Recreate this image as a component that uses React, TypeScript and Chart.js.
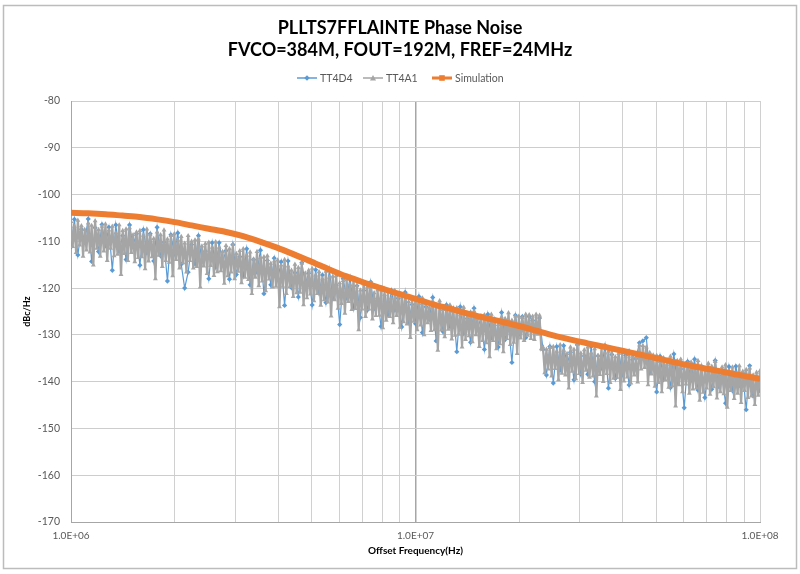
import React, { useEffect, useRef } from "react";
import { Chart, registerables } from "chart.js";

Chart.register(...registerables);

const titleLines = ["PLLTS7FFLAINTE Phase Noise", "FVCO=384M, FOUT=192M, FREF=24MHz"];
const xTitle = "Offset Frequency(Hz)";
const yTitle = "dBc/Hz";
const seriesNames = ["TT4D4", "TT4A1", "Simulation"];

// measurement offset frequencies (MHz)
const freqMHz = [
  1.000, 1.023, 1.047, 1.072, 1.096, 1.122, 1.148, 1.175, 1.202, 1.230,
  1.259, 1.288, 1.318, 1.349, 1.380, 1.413, 1.445, 1.479, 1.514, 1.549,
  1.585, 1.622, 1.660, 1.698, 1.738, 1.778, 1.820, 1.862, 1.905, 1.950,
  1.995, 2.042, 2.089, 2.138, 2.188, 2.239, 2.291, 2.344, 2.399, 2.455,
  2.512, 2.570, 2.630, 2.692, 2.754, 2.818, 2.884, 2.951, 3.020, 3.090,
  3.162, 3.236, 3.311, 3.388, 3.467, 3.548, 3.631, 3.715, 3.802, 3.890,
  3.981, 4.074, 4.169, 4.266, 4.365, 4.467, 4.571, 4.677, 4.786, 4.898,
  5.012, 5.129, 5.248, 5.370, 5.495, 5.623, 5.754, 5.888, 6.026, 6.166,
  6.310, 6.457, 6.607, 6.761, 6.918, 7.079, 7.244, 7.413, 7.586, 7.762,
  7.943, 8.128, 8.318, 8.511, 8.710, 8.913, 9.120, 9.333, 9.550, 9.772,
  10.00, 10.23, 10.47, 10.72, 10.96, 11.22, 11.48, 11.75, 12.02, 12.30,
  12.59, 12.88, 13.18, 13.49, 13.80, 14.13, 14.45, 14.79, 15.14, 15.49,
  15.85, 16.22, 16.60, 16.98, 17.38, 17.78, 18.20, 18.62, 19.05, 19.50,
  19.95, 20.42, 20.89, 21.38, 21.88, 22.39, 22.91, 23.44, 23.99, 24.55,
  25.12, 25.70, 26.30, 26.92, 27.54, 28.18, 28.84, 29.51, 30.20, 30.90,
  31.62, 32.36, 33.11, 33.88, 34.67, 35.48, 36.31, 37.15, 38.02, 38.90,
  39.81, 40.74, 41.69, 42.66, 43.65, 44.67, 45.71, 46.77, 47.86, 48.98,
  50.12, 51.29, 52.48, 53.70, 54.95, 56.23, 57.54, 58.88, 60.26, 61.66,
  63.10, 64.57, 66.07, 67.61, 69.18, 70.79, 72.44, 74.13, 75.86, 77.62,
  79.43, 81.28, 83.18, 85.11, 87.10, 89.13, 91.20, 93.33, 95.50, 97.72,
  100.0,
];

// extra TT4A1 sample frequencies lying between the ones above (MHz)
const freqMidMHz = [
  1.011, 1.035, 1.059, 1.084, 1.109, 1.135, 1.161, 1.189, 1.216, 1.245,
  1.274, 1.303, 1.334, 1.365, 1.397, 1.429, 1.462, 1.497, 1.532, 1.567,
  1.604, 1.641, 1.679, 1.718, 1.758, 1.799, 1.841, 1.884, 1.928, 1.973,
  2.019, 2.066, 2.114, 2.163, 2.214, 2.265, 2.318, 2.372, 2.427, 2.484,
  2.541, 2.600, 2.661, 2.723, 2.786, 2.851, 2.918, 2.986, 3.055, 3.126,
  3.199, 3.274, 3.350, 3.428, 3.508, 3.590, 3.673, 3.759, 3.846, 3.936,
  4.028, 4.122, 4.218, 4.316, 4.416, 4.519, 4.624, 4.732, 4.842, 4.955,
  5.071, 5.189, 5.309, 5.433, 5.559, 5.689, 5.821, 5.957, 6.096, 6.238,
  6.384, 6.532, 6.684, 6.840, 6.999, 7.162, 7.329, 7.500, 7.674, 7.853,
  8.036, 8.223, 8.415, 8.611, 8.812, 9.017, 9.227, 9.442, 9.661, 9.886,
  10.11, 10.35, 10.59, 10.84, 11.09, 11.35, 11.61, 11.89, 12.16, 12.45,
  12.74, 13.03, 13.34, 13.65, 13.97, 14.29, 14.62, 14.97, 15.32, 15.67,
  16.04, 16.41, 16.79, 17.18, 17.58, 17.99, 18.41, 18.84, 19.28, 19.73,
  20.19, 20.66, 21.14, 21.63, 22.14, 22.65, 23.18, 23.72, 24.27, 24.84,
  25.41, 26.00, 26.61, 27.23, 27.86, 28.51, 29.18, 29.86, 30.55, 31.26,
  31.99, 32.74, 33.50, 34.28, 35.08, 35.90, 36.73, 37.59, 38.46, 39.36,
  40.28, 41.22, 42.18, 43.16, 44.16, 45.19, 46.24, 47.32, 48.42, 49.55,
  50.71, 51.89, 53.09, 54.33, 55.59, 56.89, 58.21, 59.57, 60.96, 62.38,
  63.84, 65.32, 66.84, 68.40, 69.99, 71.62, 73.29, 75.00, 76.74, 78.53,
  80.36, 82.23, 84.15, 86.11, 88.12, 90.17, 92.27, 94.42, 96.61, 98.86,
];

// TT4D4 (dBc/Hz) at freqMHz
const tt4d4 = [
  -111.2, -105.3, -112.9, -107.4, -110.0, -105.2, -114.3, -107.1, -112.2, -106.4,
  -110.9, -107.0, -116.2, -106.5, -112.1, -108.8, -113.9, -106.5, -110.8, -108.4,
  -115.1, -107.5, -112.4, -108.4, -114.2, -107.0, -113.1, -110.2, -118.5, -108.6,
  -112.7, -108.2, -114.9, -120.0, -116.6, -110.7, -114.8, -108.8, -114.3, -112.1,
  -118.0, -110.3, -115.5, -110.3, -114.5, -112.0, -118.1, -110.7, -117.1, -113.3,
  -117.4, -111.6, -119.3, -113.9, -116.6, -111.9, -121.2, -114.1, -119.3, -113.6,
  -118.2, -114.4, -123.7, -114.2, -119.9, -116.7, -121.9, -114.6, -119.1, -116.8,
  -123.6, -116.1, -121.1, -117.2, -123.1, -116.0, -122.2, -119.4, -127.8, -118.0,
  -122.1, -117.7, -124.4, -119.5, -126.3, -120.5, -124.7, -118.7, -124.4, -122.2,
  -128.2, -120.5, -125.7, -120.5, -124.7, -122.2, -128.3, -120.9, -127.3, -123.5,
  -127.6, -121.8, -129.5, -124.0, -126.7, -122.0, -131.3, -124.2, -129.3, -123.6,
  -128.2, -124.4, -133.6, -124.0, -129.7, -126.5, -131.6, -124.3, -128.7, -126.3,
  -133.1, -125.6, -130.6, -126.7, -132.6, -125.2, -131.0, -127.9, -135.9, -125.8,
  -129.9, -126.1, -130.6, -126.1, -126.9, -129.3, -126.4, -133.1, -138.6, -132.5,
  -140.3, -132.5, -137.5, -132.3, -136.3, -133.7, -139.6, -132.1, -138.4, -134.5,
  -138.4, -132.5, -140.0, -134.5, -137.1, -132.3, -141.4, -134.2, -139.3, -133.4,
  -138.5, -134.4, -140.7, -135.3, -135.0, -131.7, -131.3, -130.6, -138.1, -134.9,
  -142.2, -134.6, -139.5, -135.5, -141.3, -134.1, -140.2, -137.3, -145.6, -135.7,
  -139.7, -135.2, -141.8, -136.7, -143.4, -137.5, -141.6, -135.5, -141.0, -138.7,
  -144.6, -136.8, -141.9, -136.7, -140.8, -138.2, -146.0, -136.6, -143.0, -139.1,
  -142.0,
];

// TT4A1 (dBc/Hz), alternating freqMHz[i], freqMidMHz[i]
const tt4a1 = [
  -105.8, -111.1, -106.8, -112.4, -105.5, -110.8, -106.7, -113.2, -107.5, -111.9,
  -106.1, -112.3, -106.6, -115.1, -105.6, -111.5, -107.5, -113.2, -106.8, -112.1,
  -106.3, -114.1, -107.6, -111.5, -106.8, -113.1, -108.2, -112.8, -106.5, -117.1,
  -107.7, -112.6, -107.4, -114.1, -107.1, -112.4, -108.6, -114.4, -108.0, -113.5,
  -107.7, -113.3, -108.7, -115.9, -107.4, -114.2, -108.6, -113.3, -109.4, -118.0,
  -108.0, -113.0, -108.6, -115.4, -107.6, -114.1, -109.5, -114.5, -108.8, -117.4,
  -108.4, -113.9, -109.7, -115.7, -109.0, -114.6, -110.4, -116.6, -108.8, -114.1,
  -110.0, -115.7, -109.7, -115.4, -109.5, -119.8, -111.0, -115.3, -110.5, -116.9,
  -110.2, -115.2, -111.3, -117.3, -110.1, -116.5, -111.3, -116.3, -112.2, -119.0,
  -110.9, -117.4, -111.6, -116.6, -110.7, -118.0, -112.6, -116.4, -112.0, -118.9,
  -111.6, -117.7, -113.0, -118.2, -112.3, -121.2, -113.8, -117.7, -112.2, -119.5,
  -113.5, -118.5, -113.3, -120.6, -113.1, -118.1, -114.7, -119.8, -114.2, -119.6,
  -114.0, -124.0, -115.1, -119.6, -113.9, -121.2, -115.3, -119.7, -116.2, -121.8,
  -114.9, -121.0, -115.6, -120.9, -114.7, -123.6, -116.8, -122.1, -116.2, -121.3,
  -115.8, -122.7, -117.2, -121.2, -116.5, -123.7, -118.0, -122.5, -116.4, -123.0,
  -117.7, -126.0, -117.5, -122.5, -117.3, -124.3, -118.9, -123.3, -118.4, -125.4,
  -118.2, -122.9, -119.3, -124.6, -118.1, -124.4, -119.5, -128.9, -120.4, -124.5,
  -119.1, -126.1, -119.8, -124.5, -118.9, -126.6, -121.0, -125.9, -120.4, -125.8,
  -120.0, -128.5, -121.4, -126.9, -120.7, -126.1, -122.1, -127.4, -120.5, -125.9,
  -121.8, -128.4, -121.6, -127.2, -121.4, -127.7, -122.9, -130.6, -122.4, -127.1,
  -122.2, -128.9, -123.3, -127.9, -122.1, -130.0, -123.3, -127.4, -124.2, -129.1,
  -122.9, -128.9, -123.6, -133.3, -122.7, -128.9, -124.6, -130.4, -124.0, -128.8,
  -123.6, -130.9, -125.0, -130.1, -124.2, -129.9, -125.7, -132.6, -124.1, -131.0,
  -125.4, -130.2, -125.1, -131.5, -124.9, -130.0, -126.5, -132.5, -125.9, -131.2,
  -125.7, -131.7, -126.8, -134.7, -125.6, -131.2, -126.9, -133.0, -127.8, -131.9,
  -126.2, -133.6, -126.5, -130.8, -125.3, -132.1, -126.9, -131.6, -126.0, -134.0,
  -126.0, -130.7, -126.3, -131.2, -125.6, -130.1, -125.7, -130.8, -126.0, -131.0,
  -125.6, -129.9, -125.8, -133.0, -132.6, -138.1, -133.1, -137.3, -132.7, -138.8,
  -132.5, -137.2, -133.5, -139.6, -132.1, -138.2, -133.3, -138.6, -134.0, -141.4,
  -132.6, -137.8, -133.1, -139.4, -132.1, -138.3, -133.9, -140.2, -133.2, -137.6,
  -132.6, -139.1, -133.9, -138.8, -133.0, -143.1, -134.4, -138.5, -132.7, -140.0,
  -133.9, -138.3, -133.5, -140.2, -133.2, -139.3, -134.7, -139.1, -134.0, -141.7,
  -133.7, -139.9, -134.7, -139.0, -133.4, -140.3, -134.6, -138.6, -135.0, -140.1,
  -132.2, -137.3, -132.3, -137.0, -132.6, -140.7, -133.8, -138.4, -134.3, -141.0,
  -134.4, -140.2, -135.7, -142.2, -134.9, -139.6, -136.3, -141.2, -134.6, -140.9,
  -135.8, -145.2, -135.5, -140.7, -135.2, -142.2, -136.7, -140.5, -136.1, -142.5,
  -135.8, -141.6, -136.8, -141.4, -135.5, -144.0, -136.7, -142.3, -137.5, -141.4,
  -136.1, -142.7, -136.7, -141.1, -135.7, -143.5, -137.6, -142.2, -136.9, -142.6,
  -136.4, -145.5, -137.7, -141.9, -136.9, -143.6, -138.3, -142.5, -136.6, -144.5,
  -137.8, -141.9, -137.4, -143.4, -137.1, -143.1, -138.6, -144.9, -138.0, -142.9,
  -137.7,
];

// simulation curve
const simFreqMHz = [
  1.00, 1.12, 1.26, 1.41, 1.58, 1.78, 2.00, 2.24, 2.51, 2.82,
  3.16, 3.55, 3.98, 4.47, 5.01, 5.62, 6.31, 7.08, 7.94, 8.91,
  10.0, 11.2, 12.6, 14.1, 15.8, 17.8, 20.0, 22.4, 25.1, 28.2,
  31.6, 35.5, 39.8, 44.7, 50.1, 56.2, 63.1, 70.8, 79.4, 89.1,
  100.0,
];
const simulation = [
  -103.9, -104.0, -104.2, -104.5, -104.8, -105.3, -105.9, -106.6, -107.3, -108.0,
  -108.9, -110.1, -111.4, -112.9, -114.4, -116.0, -117.5, -118.8, -120.0, -121.2,
  -122.3, -123.4, -124.4, -125.4, -126.3, -127.2, -128.1, -129.1, -130.1, -131.0,
  -131.8, -132.6, -133.4, -134.2, -135.0, -135.8, -136.6, -137.3, -138.0, -138.7,
  -139.4,
];

const xTickValues = [
  1e6, 2e6, 3e6, 4e6, 5e6, 6e6, 7e6, 8e6, 9e6,
  1e7, 2e7, 3e7, 4e7, 5e7, 6e7, 7e7, 8e7, 9e7,
  1e8,
];
const xTickLabels = [
  "1.0E+06", "", "", "", "", "", "", "", "",
  "1.0E+07", "", "", "", "", "", "", "", "",
  "1.0E+08",
];

const BLUE = "#5b9bd5";
const GRAY = "#a5a5a5";
const ORANGE = "#ed7d31";
const TEXT = "#595959";
const FONT = "Lato, 'Open Sans', sans-serif";

const PLOT_LEFT = 71;
const PLOT_TOP = 101;
const PLOT_BOTTOM = 522;
const W = 800;
const H = 574;

function drawMarker(ctx: CanvasRenderingContext2D, style: string, x: number, y: number, r: number, color: string) {
  ctx.save();
  ctx.fillStyle = color;
  ctx.beginPath();
  if (style === "rectRot") {
    ctx.moveTo(x, y - r);
    ctx.lineTo(x + r, y);
    ctx.lineTo(x, y + r);
    ctx.lineTo(x - r, y);
  } else if (style === "triangle") {
    ctx.moveTo(x, y - r);
    ctx.lineTo(x + r, y + r * 0.8);
    ctx.lineTo(x - r, y + r * 0.8);
  } else {
    ctx.rect(x - r, y - r, 2 * r, 2 * r);
  }
  ctx.closePath();
  ctx.fill();
  ctx.restore();
}

const decorPlugin = {
  id: "decor",
  beforeDraw(chart: any) {
    const ctx = chart.ctx as CanvasRenderingContext2D;
    ctx.save();
    ctx.fillStyle = "#ffffff";
    ctx.fillRect(0, 0, W, H);
    ctx.strokeStyle = "#bcbcbc";
    ctx.lineWidth = 1.5;
    ctx.strokeRect(3.5, 5.5, 793, 563);
    ctx.restore();
  },
  afterDraw(chart: any) {
    const ctx = chart.ctx as CanvasRenderingContext2D;
    const area = chart.chartArea;
    ctx.save();
    ctx.fillStyle = "#000000";
    ctx.textAlign = "center";
    ctx.textBaseline = "middle";
    ctx.font = `bold 18px ${FONT}`;
    ctx.fillText(titleLines[0], 400, 28);
    ctx.fillText(titleLines[1], 400, 50);

    const ly = 78;
    const items = [
      { name: seriesNames[0], color: BLUE, style: "rectRot", x0: 297, lw: 1.5, r: 2.8 },
      { name: seriesNames[1], color: GRAY, style: "triangle", x0: 363, lw: 1.5, r: 3 },
      { name: seriesNames[2], color: ORANGE, style: "rect", x0: 432, lw: 3, r: 2.8 },
    ];
    ctx.font = `10.5px ${FONT}`;
    ctx.textAlign = "left";
    for (const it of items) {
      ctx.strokeStyle = it.color;
      ctx.lineWidth = it.lw;
      ctx.beginPath();
      ctx.moveTo(it.x0, ly);
      ctx.lineTo(it.x0 + 20, ly);
      ctx.stroke();
      drawMarker(ctx, it.style, it.x0 + 10, ly, it.r, it.color);
      ctx.fillStyle = TEXT;
      ctx.fillText(it.name, it.x0 + 23, ly + 0.5);
    }

    ctx.fillStyle = "#000000";
    ctx.font = `bold 10px ${FONT}`;
    ctx.textAlign = "center";
    ctx.fillText(xTitle, (area.left + area.right) / 2, 551);
    ctx.save();
    ctx.translate(27, (area.top + area.bottom) / 2);
    ctx.rotate(-Math.PI / 2);
    ctx.font = `bold 9px ${FONT}`;
    ctx.fillText(yTitle, 0, 0);
    ctx.restore();
    ctx.restore();
  },
};

export default function App() {
  const canvasRef = useRef<HTMLCanvasElement | null>(null);

  useEffect(() => {
    const canvas = canvasRef.current;
    if (!canvas) return;

    const blueData = freqMHz.map((f, i) => ({ x: f * 1e6, y: tt4d4[i] }));
    const grayFreq = freqMHz.flatMap((f, i) => (i < freqMidMHz.length ? [f, freqMidMHz[i]] : [f]));
    const grayData = grayFreq.map((f, i) => ({ x: f * 1e6, y: tt4a1[i] }));
    const simData = simFreqMHz.map((f, i) => ({ x: f * 1e6, y: simulation[i] }));

    const chart = new Chart(canvas, {
      type: "line",
      data: {
        datasets: [
          {
            label: seriesNames[0],
            data: blueData,
            borderColor: BLUE,
            backgroundColor: BLUE,
            borderWidth: 1.2,
            pointStyle: "rectRot",
            pointRadius: 2.6,
            pointBorderWidth: 0,
            pointBackgroundColor: BLUE,
            order: 3,
            tension: 0,
          },
          {
            label: seriesNames[1],
            data: grayData,
            borderColor: GRAY,
            backgroundColor: GRAY,
            borderWidth: 2.2,
            pointStyle: "triangle",
            pointRadius: 2.8,
            pointBorderWidth: 0,
            pointBackgroundColor: GRAY,
            order: 2,
            tension: 0,
          },
          {
            label: seriesNames[2],
            data: simData,
            borderColor: ORANGE,
            backgroundColor: ORANGE,
            borderWidth: 6,
            pointStyle: "rect",
            pointRadius: 3,
            pointBorderWidth: 0,
            pointBackgroundColor: ORANGE,
            order: 1,
            tension: 0.3,
          },
        ],
      },
      options: {
        responsive: false,
        animation: false,
        events: [],
        layout: { padding: { left: 0, right: W - 760, top: PLOT_TOP, bottom: 0 } },
        plugins: {
          legend: { display: false },
          title: { display: false },
          tooltip: { enabled: false },
        },
        scales: {
          x: {
            type: "logarithmic",
            min: 1e6,
            max: 1e8,
            afterBuildTicks: (scale: any) => {
              scale.ticks = xTickValues.map((v) => ({ value: v }));
            },
            afterFit: (scale: any) => {
              scale.height = H - PLOT_BOTTOM;
            },
            ticks: {
              autoSkip: false,
              maxRotation: 0,
              minRotation: 0,
              padding: 8,
              color: TEXT,
              font: { family: FONT, size: 10 },
              callback: (value: any) => {
                const idx = xTickValues.indexOf(Number(value));
                return idx >= 0 ? xTickLabels[idx] : "";
              },
            },
            grid: {
              drawTicks: false,
              color: (c: any) => {
                const v = c.tick ? c.tick.value : 0;
                return v === 1e7 || v === 1e6 ? "#a6a6a6" : "#d0d0d0";
              },
              lineWidth: (c: any) => {
                const v = c.tick ? c.tick.value : 0;
                return v === 1e7 ? 1.5 : 1;
              },
            },
            border: { display: true, color: "#a6a6a6", width: 1 },
          },
          y: {
            type: "linear",
            min: -170,
            max: -80,
            afterFit: (scale: any) => {
              scale.width = PLOT_LEFT;
            },
            ticks: {
              stepSize: 10,
              padding: 11,
              color: TEXT,
              font: { family: FONT, size: 10.5 },
            },
            grid: { drawTicks: false, color: "#cdcdcd", lineWidth: 1 },
            border: { display: true, color: "#a6a6a6", width: 1 },
          },
        },
      },
      plugins: [decorPlugin],
    });

    return () => chart.destroy();
  }, []);

  return (
    <div style={{ position: "fixed", left: 0, top: 0, width: W, height: H, background: "#fff" }}>
      <canvas ref={canvasRef} width={W} height={H} style={{ display: "block", width: W, height: H }} />
    </div>
  );
}
